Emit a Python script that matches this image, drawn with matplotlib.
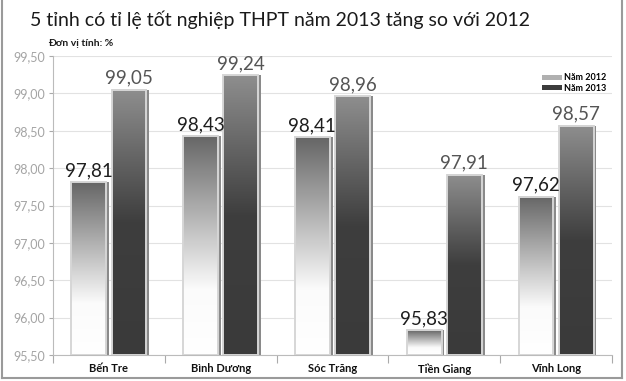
import matplotlib
matplotlib.use("Agg")
import matplotlib.pyplot as plt
import numpy as np
from matplotlib.colors import LinearSegmentedColormap
from matplotlib.patches import Patch
from matplotlib.lines import Line2D

plt.rcParams['font.family'] = ['Lato', 'DejaVu Sans']

provinces = ["Bến Tre", "Bình Dương", "Sóc Trăng", "Tiền Giang", "Vĩnh Long"]
rate_2012 = [97.81, 98.43, 98.41, 95.83, 97.62]
rate_2013 = [99.05, 99.24, 98.96, 97.91, 98.57]
series_names = ["Năm 2012", "Năm 2013"]
y_ticks = [95.5, 96.0, 96.5, 97.0, 97.5, 98.0, 98.5, 99.0, 99.5]

# gradients: bottom -> top of each bar
cmap_2012 = LinearSegmentedColormap.from_list(
    "g12", [(0, "#ffffff"), (0.3, "#fbfbfb"), (1, "#666666")])
cmap_2013 = LinearSegmentedColormap.from_list(
    "g13", [(0, "#3a3a3a"), (0.5, "#3e3e3e"), (1, "#8e8e8e")])

fig = plt.figure(figsize=(6.26, 3.81), dpi=100)
ax = fig.add_axes([53 / 626, 1 - 355 / 381, (612 - 53) / 626, (355 - 56) / 381])

ymin, ymax = 95.5, 99.5
width = 0.31
offset = 0.18
grad = np.linspace(0, 1, 256).reshape(-1, 1)


def draw_bars(values, shift, cmap, label_color):
    for i, v in enumerate(values):
        x0 = i + shift - width / 2
        x1 = x0 + width
        # shadow on the right side
        ax.bar(i + shift + 0.025, v - ymin, width=width, bottom=ymin,
               color="#8a8a8a", zorder=2, linewidth=0)
        ax.imshow(grad, cmap=cmap, origin="lower", aspect="auto",
                  extent=[x0, x1, ymin, v], zorder=3)
        ax.bar(i + shift, v - ymin, width=width, bottom=ymin,
               facecolor="none", edgecolor="#d6d6d6", linewidth=1.4, zorder=4)
        ax.text(i + shift, v + 0.04, f"{v:.2f}".replace(".", ","),
                ha="center", va="bottom", fontsize=13.5, color=label_color, zorder=5)


draw_bars(rate_2012, -offset, cmap_2012, "#1e1e1e")
draw_bars(rate_2013, offset, cmap_2013, "#555555")

ax.set_xlim(-0.5, len(provinces) - 0.5)
ax.set_ylim(ymin, ymax)
ax.set_yticks(y_ticks)
ax.set_yticklabels([f"{t:.2f}".replace(".", ",") for t in y_ticks],
                   fontsize=9, color="#a4a4a4")
ax.yaxis.grid(True, color="#e2e2e2", linewidth=0.8)
ax.set_axisbelow(True)

ax.set_xticks(range(len(provinces)))
ax.set_xticklabels(provinces, fontsize=8, fontweight="bold", color="#111111")
ax.set_xticks(np.arange(-0.5, len(provinces)), minor=True)
ax.tick_params(axis="x", which="major", length=0, pad=6)
ax.tick_params(axis="x", which="minor", length=6, color="#aaaaaa", width=0.8)
ax.tick_params(axis="y", length=3, color="#aaaaaa", width=0.8, pad=3)

for s in ["top", "right"]:
    ax.spines[s].set_visible(False)
ax.spines["left"].set_color("#bbbbbb")
ax.spines["bottom"].set_color("#bbbbbb")

handles = [Patch(facecolor="#b0b0b0", edgecolor="none"),
           Patch(facecolor="#3c3c3c", edgecolor="none")]
leg = ax.legend(handles, series_names, loc="upper right",
                bbox_to_anchor=(1.0, 0.96), frameon=False, fontsize=6.5,
                handlelength=2.2, handleheight=0.5, handletextpad=0.3,
                labelspacing=0.15, borderaxespad=0.2)
for t in leg.get_texts():
    t.set_fontweight("bold")

fig.text(30 / 626, 1 - 20 / 381, "5 tỉnh có tỉ lệ tốt nghiệp THPT năm 2013 tăng so với 2012",
         fontsize=14, color="#1a1a1a", va="center", ha="left")
fig.text(48 / 626, 1 - 44 / 381, "Đơn vị tính: %", fontsize=7.5, fontweight="bold",
         color="#1a1a1a", va="center", ha="left")

# frame around the picture (left, right, bottom)
frame = dict(color="#9a9a9a", linewidth=1.5, transform=fig.transFigure)
fig.add_artist(Line2D([2 / 626, 2 / 626], [1 - 378 / 381, 1], **frame))
fig.add_artist(Line2D([622 / 626, 622 / 626], [1 - 378 / 381, 1], **frame))
fig.add_artist(Line2D([2 / 626, 622 / 626], [1 - 378 / 381, 1 - 378 / 381], **frame))

fig.savefig("out.png", dpi=100)
